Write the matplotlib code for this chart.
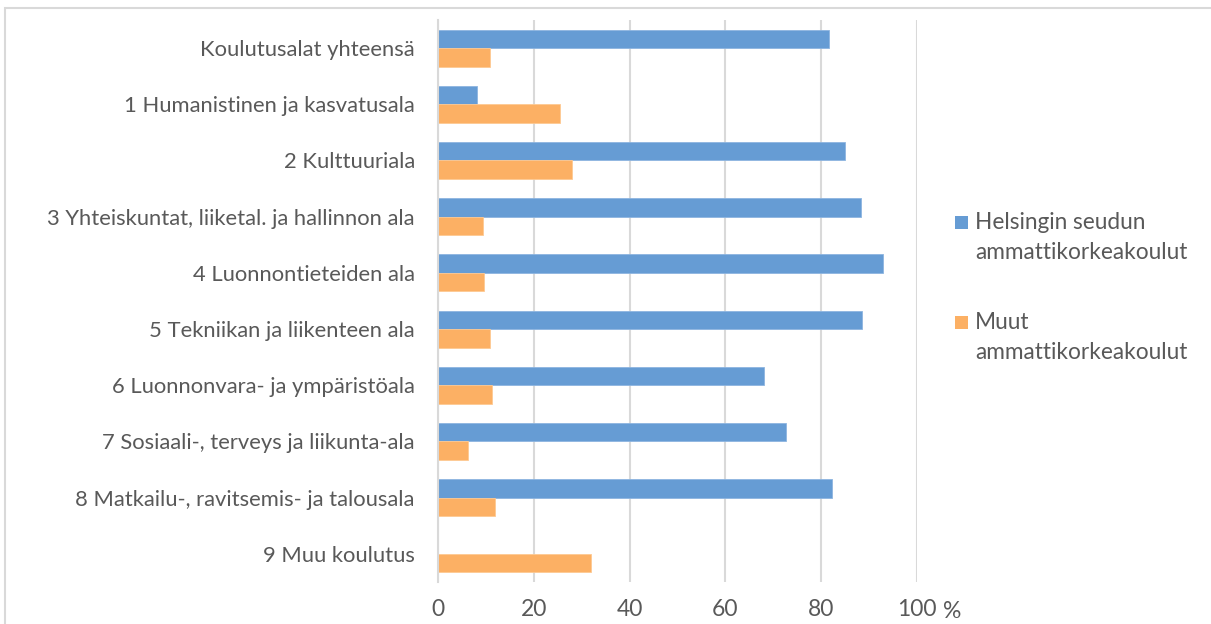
import matplotlib
matplotlib.use("Agg")
import numpy as np
import matplotlib.pyplot as plt
from matplotlib.patches import Rectangle

# education fields, top to bottom
categories = [
    "Koulutusalat yhteensä",
    "1 Humanistinen ja kasvatusala",
    "2 Kulttuuriala",
    "3 Yhteiskuntat, liiketal. ja hallinnon ala",
    "4 Luonnontieteiden ala",
    "5 Tekniikan ja liikenteen ala",
    "6 Luonnonvara- ja ympäristöala",
    "7 Sosiaali-, terveys ja liikunta-ala",
    "8 Matkailu-, ravitsemis- ja talousala",
    "9 Muu koulutus",
]
helsinki = [81.5, 8.2, 85.0, 88.2, 92.8, 88.5, 68.0, 72.7, 82.2, 0.0]
muut = [11.0, 25.4, 27.9, 9.4, 9.7, 11.0, 11.3, 6.3, 11.9, 32.0]
xticks = [0, 20, 40, 60, 80, 100]

series_names = [["Helsingin seudun", "ammattikorkeakoulut"], ["Muut", "ammattikorkeakoulut"]]
blue = "#669CD4"
orange = "#FCB064"
grey_text = "#595959"
grid_col = "#D9D9D9"
W, H = 1211, 624

plt.rcParams["font.family"] = ["Lato", "DejaVu Sans"]
plt.rcParams["font.size"] = 15.8

fig = plt.figure(figsize=(W / 100, H / 100), dpi=100)
ax = fig.add_axes([437.7 / W, 1 - 582 / H, (917.3 - 437.7) / W, (582 - 20) / H])

# light chart frame
fig.patches.append(Rectangle((5 / W, -0.1), 1.2, 1 - 8 / H + 0.1,
                             transform=fig.transFigure, fill=False,
                             edgecolor="#D9D9D9", linewidth=1.5))

y = np.arange(len(categories))
h = 0.33
ax.barh(y - h / 2, helsinki, height=h, color=blue, edgecolor="#8DB5E0", linewidth=0.6)
ax.barh(y + h / 2, muut, height=h, color=orange, edgecolor="#FDC993", linewidth=0.6)

ax.set_ylim(len(categories) - 0.5, -0.5)
ax.set_xlim(0, 100)
ax.set_yticks(y)
ax.set_yticklabels(categories, color=grey_text)
ax.set_xticks(xticks)
ax.set_xticklabels([str(t) for t in xticks], color=grey_text, fontsize=16.5)
ax.annotate("%", xy=(100, 0), xycoords=("data", "axes fraction"),
            xytext=(35, -30), textcoords="offset pixels", ha="center", va="center",
            color=grey_text, fontsize=16.5)
ax.tick_params(axis="y", length=0, pad=16.5)
ax.tick_params(axis="x", length=0, pad=12)

ax.grid(axis="x", color=grid_col, linewidth=1.5)
ax.set_axisbelow(True)
for s in ["top", "right", "bottom"]:
    ax.spines[s].set_visible(False)
ax.spines["left"].set_color(grid_col)
ax.spines["left"].set_linewidth(1.5)

# legend: square beside the first line of each two-line label
for (lines, col, top) in zip(series_names, [blue, orange], [216, 316]):
    fig.patches.append(Rectangle((955 / W, 1 - (top + 13) / H), 13 / W, 13 / H,
                                 transform=fig.transFigure, facecolor=col, edgecolor="none"))
    for i, line in enumerate(lines):
        fig.text(975 / W, 1 - (top + 13 + 30 * i) / H, line, ha="left", va="baseline",
                 color=grey_text, fontsize=16.3)

fig.savefig("out.png", dpi=100)
